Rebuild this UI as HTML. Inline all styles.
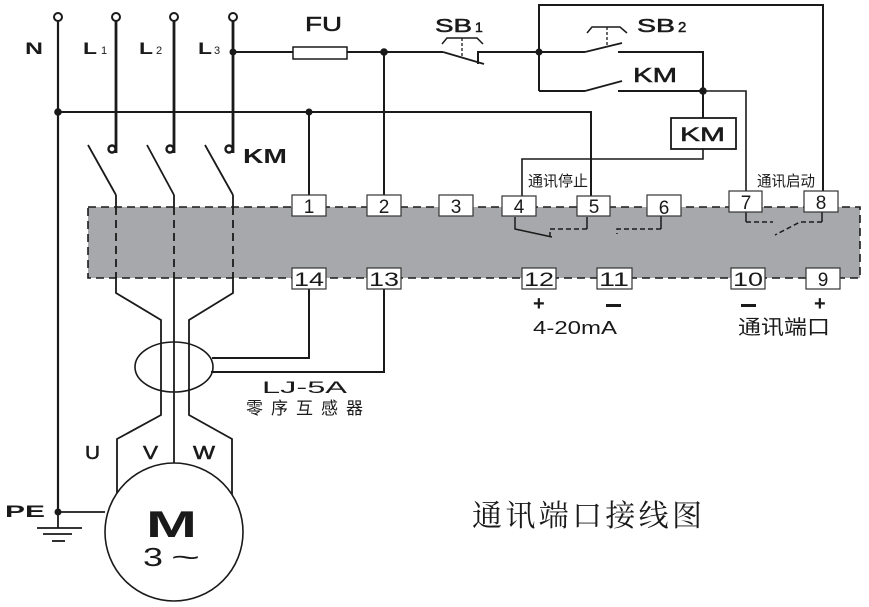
<!DOCTYPE html>
<html><head><meta charset="utf-8"><style>
html,body{margin:0;padding:0;background:#fff;}
svg{display:block;}
.t{font-family:"Liberation Sans",Arial,sans-serif;fill:#1a1a1a;}
.c{font-family:"Liberation Sans","Noto Sans CJK SC",sans-serif;fill:#1a1a1a;}
.m{stroke:#1a1a1a;stroke-width:0.5;}
</style></head><body>
<svg width="869" height="607" viewBox="0 0 869 607" xmlns="http://www.w3.org/2000/svg">
<g fill="none" stroke="#1a1a1a" stroke-linecap="butt">
  <rect x="88" y="207" width="772" height="71" fill="#a7a8ab" stroke="#1a1a1a" stroke-width="1.6" stroke-dasharray="8,5"/>

  <circle cx="58" cy="17" r="4" stroke-width="2"/>
  <circle cx="116" cy="17" r="4" stroke-width="2"/>
  <circle cx="174" cy="17" r="4" stroke-width="2"/>
  <circle cx="233" cy="17" r="4" stroke-width="2"/>

  <line x1="58" y1="21" x2="58" y2="512" stroke-width="2.2"/>
  <polyline points="58,112 591,112 591,196" stroke-width="2"/>
  <line x1="309" y1="112" x2="309" y2="196" stroke-width="2"/>

  <line x1="116" y1="21" x2="116" y2="153" stroke-width="2.8"/>
  <line x1="174" y1="21" x2="174" y2="153" stroke-width="2.8"/>
  <line x1="233" y1="21" x2="233" y2="153" stroke-width="2.8"/>
  <circle cx="112" cy="149" r="3.5" stroke-width="2.4"/>
  <circle cx="170" cy="149" r="3.5" stroke-width="2.4"/>
  <circle cx="229" cy="149" r="3.5" stroke-width="2.4"/>

  <line x1="88" y1="145" x2="116" y2="195" stroke-width="1.8"/>
  <line x1="147" y1="145" x2="174" y2="195" stroke-width="1.8"/>
  <line x1="205" y1="145" x2="233" y2="195" stroke-width="1.8"/>
  <line x1="116" y1="195" x2="116" y2="207" stroke-width="1.8"/>
  <line x1="174" y1="195" x2="174" y2="207" stroke-width="1.8"/>
  <line x1="233" y1="195" x2="233" y2="207" stroke-width="1.8"/>
  <line x1="116" y1="207" x2="116" y2="278" stroke-width="1.8" stroke-dasharray="8,5"/>
  <line x1="174" y1="207" x2="174" y2="278" stroke-width="1.8" stroke-dasharray="8,5"/>
  <line x1="233" y1="207" x2="233" y2="278" stroke-width="1.8" stroke-dasharray="8,5"/>
  <polyline points="116,278 116,293 161,320 161,415 117,439 117,494" stroke-width="1.8"/>
  <polyline points="174,278 174,463" stroke-width="1.8"/>
  <polyline points="233,278 233,293 189,320 189,415 232,439 232,495" stroke-width="1.8"/>

  <line x1="233" y1="52" x2="293" y2="52" stroke-width="2"/>
  <rect x="293" y="47" width="54" height="12" stroke-width="1.5" fill="#fff"/>
  <line x1="347" y1="52" x2="443" y2="52" stroke-width="2"/>
  <line x1="384" y1="52" x2="384" y2="196" stroke-width="2"/>
  <line x1="443" y1="52" x2="484" y2="64" stroke-width="1.8"/>
  <polyline points="478,64 478,52 539,52" stroke-width="2"/>
  <polyline points="442,44 447,38 477,38 483,44" stroke-width="1.5"/>
  <line x1="462" y1="38" x2="462" y2="58" stroke-width="1.3" stroke-dasharray="3,2"/>
  <polyline points="539,91 539,5 823,5 823,192" stroke-width="2"/>
  <line x1="539" y1="52" x2="585" y2="52" stroke-width="2"/>
  <line x1="585" y1="52" x2="622" y2="43" stroke-width="1.8"/>
  <polyline points="618,52 703,52 703,118" stroke-width="2"/>
  <polyline points="587,33 592,27 620,27 627,33" stroke-width="1.5"/>
  <line x1="607" y1="27" x2="607" y2="47" stroke-width="1.3" stroke-dasharray="3,2"/>
  <line x1="539" y1="91" x2="585" y2="91" stroke-width="2"/>
  <line x1="585" y1="91" x2="622" y2="81" stroke-width="1.8"/>
  <line x1="618" y1="91" x2="703" y2="91" stroke-width="2"/>
  <polyline points="703,91 746,91 746,192" stroke-width="1.6"/>
  <rect x="671" y="118" width="65" height="31" stroke-width="1.8" fill="#fff"/>
  <polyline points="703,149 703,159 522,159 522,196" stroke-width="1.6"/>

  <g stroke-width="1.5">
    <polyline points="515,217 515,229 552,237"/>
    <line x1="587" y1="217" x2="587" y2="229"/>
    <polyline points="587,229 550,229 550,237" stroke-dasharray="5,3"/>
    <line x1="661" y1="216" x2="661" y2="229"/>
    <polyline points="661,229 617,229 617,234" stroke-dasharray="5,3"/>
    <line x1="746" y1="212" x2="746" y2="222"/>
    <line x1="746" y1="222" x2="773" y2="222" stroke-dasharray="5,3"/>
    <line x1="822" y1="212" x2="822" y2="222"/>
    <polyline points="822,222 800,222 775,235" stroke-dasharray="5,3"/>
  </g>

  <polyline points="309,289 309,358 212,358" stroke-width="2"/>
  <polyline points="384,289 384,372 211,372" stroke-width="2"/>
  <ellipse cx="174" cy="367" rx="39" ry="25" stroke-width="1.6"/>

  <circle cx="174" cy="532" r="69" stroke-width="1.6" fill="#fff"/>
  <line x1="58" y1="512" x2="105" y2="512" stroke-width="1.8"/>
  <line x1="58" y1="512" x2="58" y2="528" stroke-width="1.8"/>
  <line x1="37" y1="528" x2="82" y2="528" stroke-width="1.8"/>
  <line x1="43" y1="534" x2="72" y2="534" stroke-width="1.8"/>
  <line x1="52" y1="541" x2="65" y2="541" stroke-width="1.8"/>
</g>

<g fill="#1a1a1a">
  <circle cx="233" cy="52" r="3.5"/>
  <circle cx="58" cy="112" r="3.8"/>
  <circle cx="309" cy="112" r="3.5"/>
  <circle cx="384" cy="52" r="3.8"/>
  <circle cx="539" cy="52" r="3.5"/>
  <circle cx="703" cy="91" r="3.8"/>
  <circle cx="58" cy="512" r="3.5"/>
</g>

<g fill="#fff" stroke="#333" stroke-width="1.2">
  <rect x="292" y="195" width="34" height="21"/>
  <rect x="367" y="195" width="34" height="21"/>
  <rect x="439" y="195" width="34" height="21"/>
  <rect x="502" y="196" width="34" height="20"/>
  <rect x="577" y="196" width="33" height="20"/>
  <rect x="647" y="195" width="34" height="21"/>
  <rect x="729" y="191" width="33" height="21"/>
  <rect x="804" y="191" width="34" height="21"/>
  <rect x="292" y="268" width="34" height="21"/>
  <rect x="367" y="268" width="34" height="21"/>
  <rect x="522" y="268" width="34" height="21"/>
  <rect x="597" y="268" width="35" height="21"/>
  <rect x="731" y="268" width="34" height="21"/>
  <rect x="806" y="268" width="34" height="21"/>
</g>
<g class="t" font-size="19" text-anchor="middle">
  <text x="309" y="213">1</text>
  <text x="384" y="213">2</text>
  <text x="456" y="213">3</text>
  <text x="519" y="213">4</text>
  <text x="594" y="213">5</text>
  <text x="664" y="214">6</text>
  <text x="746" y="209">7</text>
  <text x="821" y="209">8</text>
  <text x="309" y="286" textLength="30" lengthAdjust="spacingAndGlyphs">14</text>
  <text x="384" y="286" textLength="30" lengthAdjust="spacingAndGlyphs">13</text>
  <text x="539" y="286" textLength="30" lengthAdjust="spacingAndGlyphs">12</text>
  <text x="614" y="286" textLength="30" lengthAdjust="spacingAndGlyphs">11</text>
  <text x="748" y="286" textLength="30" lengthAdjust="spacingAndGlyphs">10</text>
  <text x="823" y="286">9</text>
</g>

<g class="t" font-weight="bold">
  <text x="25" y="54" font-size="17" textLength="18" lengthAdjust="spacingAndGlyphs">N</text>
  <text x="83" y="54" font-size="17" textLength="14" lengthAdjust="spacingAndGlyphs">L</text>
  <text x="101" y="54" font-size="11" font-weight="normal">1</text>
  <text x="139" y="54" font-size="17" textLength="14" lengthAdjust="spacingAndGlyphs">L</text>
  <text x="156" y="54" font-size="11" font-weight="normal">2</text>
  <text x="198" y="54" font-size="17" textLength="14" lengthAdjust="spacingAndGlyphs">L</text>
  <text x="214" y="54" font-size="11" font-weight="normal">3</text>
  <text x="243" y="163" font-size="20" textLength="44" lengthAdjust="spacingAndGlyphs">KM</text>
  <text x="5" y="517" font-size="17" textLength="40" lengthAdjust="spacingAndGlyphs">PE</text>
  <text x="146" y="537" font-size="37" textLength="51" lengthAdjust="spacingAndGlyphs">M</text>
  <text x="533" y="310" font-size="20">+</text>
  <text x="814" y="310" font-size="20">+</text>
</g>
<g class="t m">
  <text x="305" y="31" font-size="20" textLength="37" lengthAdjust="spacingAndGlyphs">FU</text>
  <text x="435" y="32" font-size="18" textLength="37" lengthAdjust="spacingAndGlyphs">SB</text>
  <text x="475" y="32" font-size="14">1</text>
  <text x="637" y="32" font-size="18" textLength="38" lengthAdjust="spacingAndGlyphs">SB</text>
  <text x="678" y="32" font-size="15">2</text>
  <text x="633" y="82" font-size="20" textLength="44" lengthAdjust="spacingAndGlyphs">KM</text>
  <text x="680" y="141" font-size="19" textLength="45" lengthAdjust="spacingAndGlyphs">KM</text>
  <text x="85" y="459" font-size="18" textLength="15" lengthAdjust="spacingAndGlyphs">U</text>
  <text x="143" y="459" font-size="18" textLength="15" lengthAdjust="spacingAndGlyphs">V</text>
  <text x="193" y="459" font-size="18" textLength="22" lengthAdjust="spacingAndGlyphs">W</text>
</g>
<g fill="#1a1a1a">
  <rect x="606" y="304" width="15" height="3"/>
  <rect x="741" y="304" width="15" height="3"/>
</g>
<g class="t">
  <text x="143" y="566" font-size="26" textLength="20" lengthAdjust="spacingAndGlyphs">3</text>
  <text x="171" y="566" font-size="26" textLength="29" lengthAdjust="spacingAndGlyphs">~</text>
  <text x="533" y="334" font-size="18" textLength="84" lengthAdjust="spacingAndGlyphs">4-20mA</text>
  <text x="262" y="393" font-size="17" textLength="85" lengthAdjust="spacingAndGlyphs">LJ-5A</text>
</g>
<g class="c">
  <text x="246" y="414" font-size="17" textLength="117" lengthAdjust="spacing">零序互感器</text>
  <text x="528" y="186" font-size="15" textLength="60" lengthAdjust="spacingAndGlyphs">通讯停止</text>
  <text x="757" y="186" font-size="15" textLength="58" lengthAdjust="spacingAndGlyphs">通讯启动</text>
  <text x="738" y="334" font-size="20" textLength="92" lengthAdjust="spacingAndGlyphs">通讯端口</text>
</g>
<text x="472" y="526" font-family="'Liberation Serif','Noto Serif CJK SC',serif" font-size="30" fill="#1a1a1a" textLength="230" lengthAdjust="spacing">通讯端口接线图</text>
</svg>
</body></html>
